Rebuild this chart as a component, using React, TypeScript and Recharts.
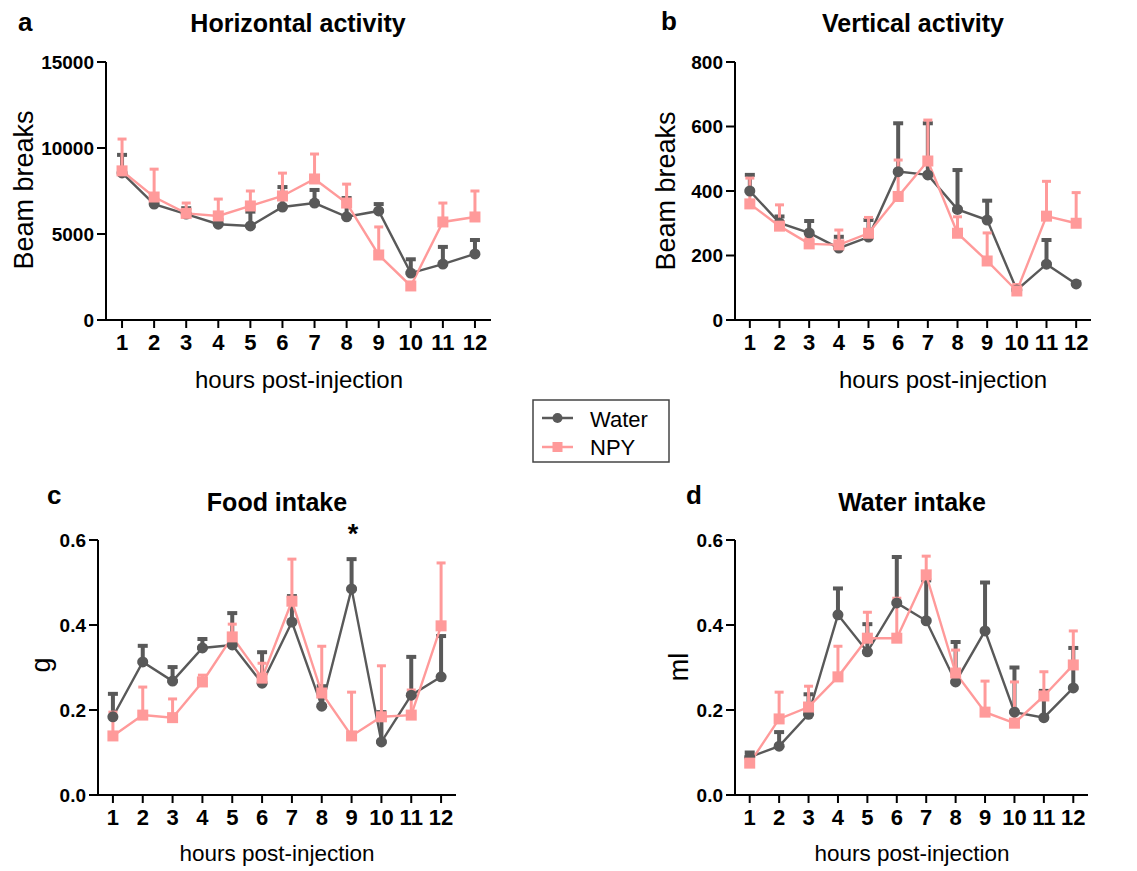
import { ErrorBar, Line, LineChart, XAxis, YAxis } from "recharts";

const FONT = 'Arial, "Liberation Sans", Helvetica, sans-serif';
const WATER = "#595959";
const NPY = "#ff9a9a";

const hours = [1, 2, 3, 4, 5, 6, 7, 8, 9, 10, 11, 12];

// a: horizontal activity (beam breaks), mean + upper SEM
const waterA = [8550, 6740, 6160, 5570, 5470, 6570, 6800, 6000, 6340, 2730, 3250, 3840];
const waterAErr = [1050, 260, 340, 250, 830, 1160, 760, 1090, 400, 800, 1000, 810];
const npyA = [8670, 7150, 6200, 6050, 6630, 7210, 8200, 6800, 3780, 1980, 5700, 5990];
const npyAErr = [1850, 1620, 600, 980, 870, 1330, 1450, 1100, 1630, 150, 1100, 1510];

// b: vertical activity
const waterB = [400, 301, 270, 223, 257, 460, 450, 343, 310, 93, 173, 112];
const waterBErr = [50, 20, 37, 35, 53, 150, 160, 122, 60, 10, 75, 5];
const npyB = [360, 291, 236, 233, 269, 383, 493, 269, 183, 90, 322, 300];
const npyBErr = [80, 66, 20, 46, 49, 113, 127, 51, 87, 20, 108, 95];

// c: food intake (g)
const waterC = [0.184, 0.313, 0.268, 0.346, 0.353, 0.263, 0.407, 0.209, 0.485, 0.125, 0.235, 0.278];
const waterCErr = [0.054, 0.038, 0.033, 0.021, 0.075, 0.073, 0.061, 0.047, 0.07, 0.07, 0.09, 0.096];
const npyC = [0.139, 0.188, 0.182, 0.266, 0.372, 0.275, 0.456, 0.24, 0.139, 0.184, 0.188, 0.398];
const npyCErr = [0.056, 0.066, 0.044, 0.016, 0.03, 0.035, 0.099, 0.11, 0.103, 0.12, 0.059, 0.148];

// d: water intake (ml)
const waterD = [0.089, 0.115, 0.19, 0.424, 0.337, 0.452, 0.41, 0.266, 0.386, 0.195, 0.182, 0.252];
const waterDErr = [0.011, 0.033, 0.047, 0.062, 0.065, 0.108, 0.095, 0.094, 0.114, 0.105, 0.063, 0.094];
const npyD = [0.075, 0.179, 0.207, 0.278, 0.369, 0.369, 0.518, 0.287, 0.195, 0.169, 0.233, 0.306];
const npyDErr = [0.015, 0.063, 0.049, 0.072, 0.061, 0.094, 0.044, 0.054, 0.073, 0.097, 0.057, 0.08];

const ticksA = [0, 5000, 10000, 15000];
const ticksB = [0, 200, 400, 600, 800];
const ticksCD = [0, 0.2, 0.4, 0.6];

const squareDot = (props: any) => {
  const { cx, cy, index } = props;
  if (cx == null || cy == null) return <g key={`sq-${index}`} />;
  return <rect key={`sq-${index}`} x={cx - 5.5} y={cy - 5.5} width={11} height={11} fill={NPY} />;
};

type PanelProps = {
  left: number;
  top: number;
  yWidth: number;
  plotW: number;
  plotH: number;
  domain: [number, number];
  ticks: number[];
  fmt?: (v: number) => string;
  water: number[];
  waterErr: number[];
  npy: number[];
  npyErr: number[];
};

function Panel(p: PanelProps) {
  const rows = hours.map((h, i) => ({
    hour: h,
    water: p.water[i],
    waterErr: [0, p.waterErr[i]],
    npy: p.npy[i],
    npyErr: [0, p.npyErr[i]],
  }));
  const width = p.yWidth + p.plotW + 14;
  const height = 22 + p.plotH + 44;
  const axisStyle = { stroke: "#000", strokeWidth: 2 };
  return (
    <div style={{ position: "absolute", left: p.left, top: p.top }}>
      <LineChart width={width} height={height} data={rows} margin={{ top: 22, right: 14, left: 0, bottom: 0 }}>
        <XAxis
          dataKey="hour"
          type="number"
          domain={[0.5, 12.5]}
          ticks={hours}
          interval={0}
          height={44}
          axisLine={axisStyle}
          tickLine={axisStyle}
          tickSize={8}
          tickMargin={6}
          tick={{ fill: "#000", fontSize: 22, fontWeight: 700, fontFamily: FONT }}
        />
        <YAxis
          type="number"
          domain={p.domain}
          ticks={p.ticks}
          interval={0}
          width={p.yWidth}
          axisLine={axisStyle}
          tickLine={axisStyle}
          tickSize={9}
          tickMargin={3}
          tickFormatter={p.fmt}
          tick={{ fill: "#000", fontSize: 19, fontWeight: 700, fontFamily: FONT }}
        />
        <Line
          dataKey="water"
          stroke={WATER}
          strokeWidth={2.4}
          dot={{ r: 5.5, fill: WATER, stroke: WATER, strokeWidth: 0 }}
          isAnimationActive={false}
        >
          <ErrorBar dataKey="waterErr" direction="y" width={5} strokeWidth={4} stroke={WATER} />
        </Line>
        <Line
          dataKey="npy"
          stroke={NPY}
          strokeWidth={2.4}
          dot={squareDot}
          isAnimationActive={false}
        >
          <ErrorBar dataKey="npyErr" direction="y" width={4.5} strokeWidth={3} stroke={NPY} />
        </Line>
      </LineChart>
    </div>
  );
}

const fmt1 = (v: number) => v.toFixed(1);

export default function App() {
  const bold = { fontFamily: FONT, fontWeight: 700, fill: "#000" } as const;
  const reg = { fontFamily: FONT, fill: "#000" } as const;
  return (
    <div style={{ position: "absolute", left: 0, top: 0, width: 1137, height: 871, background: "#fff" }}>
      <Panel left={0} top={40} yWidth={106} plotW={385} plotH={258} domain={[0, 15000]} ticks={ticksA}
        water={waterA} waterErr={waterAErr} npy={npyA} npyErr={npyAErr} />
      <Panel left={640} top={40} yWidth={95} plotW={356} plotH={258} domain={[0, 800]} ticks={ticksB}
        water={waterB} waterErr={waterBErr} npy={npyB} npyErr={npyBErr} />
      <Panel left={0} top={518} yWidth={98} plotW={358} plotH={255} domain={[0, 0.6]} ticks={ticksCD} fmt={fmt1}
        water={waterC} waterErr={waterCErr} npy={npyC} npyErr={npyCErr} />
      <Panel left={640} top={518} yWidth={95} plotW={353} plotH={255} domain={[0, 0.6]} ticks={ticksCD} fmt={fmt1}
        water={waterD} waterErr={waterDErr} npy={npyD} npyErr={npyDErr} />

      <svg width={1137} height={871} style={{ position: "absolute", left: 0, top: 0, pointerEvents: "none" }}>
        <text x={18} y={31} fontSize={26} {...bold}>a</text>
        <text x={298} y={32} fontSize={25} textAnchor="middle" {...bold}>Horizontal activity</text>
        <text x={661} y={30} fontSize={26} {...bold}>b</text>
        <text x={913} y={32} fontSize={25} textAnchor="middle" {...bold}>Vertical activity</text>
        <text x={47} y={504} fontSize={26} {...bold}>c</text>
        <text x={277} y={511} fontSize={25} textAnchor="middle" {...bold}>Food intake</text>
        <text x={686} y={504} fontSize={26} {...bold}>d</text>
        <text x={912} y={511} fontSize={25} textAnchor="middle" {...bold}>Water intake</text>
        <text x={353} y={543} fontSize={27} textAnchor="middle" {...bold}>*</text>

        <text x={299} y={388} fontSize={24} textAnchor="middle" {...reg}>hours post-injection</text>
        <text x={943} y={388} fontSize={24} textAnchor="middle" {...reg}>hours post-injection</text>
        <text x={277} y={861} fontSize={22.5} textAnchor="middle" {...reg}>hours post-injection</text>
        <text x={912} y={861} fontSize={22.5} textAnchor="middle" {...reg}>hours post-injection</text>

        <text transform="translate(33,190) rotate(-90)" fontSize={27} textAnchor="middle" {...reg}>Beam breaks</text>
        <text transform="translate(675,191) rotate(-90)" fontSize={27} textAnchor="middle" {...reg}>Beam breaks</text>
        <text transform="translate(50,665) rotate(-90)" fontSize={27} textAnchor="middle" {...reg}>g</text>
        <text transform="translate(688,667) rotate(-90)" fontSize={27} textAnchor="middle" {...reg}>ml</text>

        <rect x={533} y={400} width={136} height={62} fill="#fff" stroke="#444" strokeWidth={1.5} />
        <line x1={542} x2={573} y1={418} y2={418} stroke={WATER} strokeWidth={2.5} />
        <circle cx={557.5} cy={418} r={5} fill={WATER} />
        <text x={590} y={427} fontSize={22} {...reg}>Water</text>
        <line x1={542} x2={573} y1={447} y2={447} stroke={NPY} strokeWidth={2.5} />
        <rect x={552.5} y={442} width={10} height={10} fill={NPY} />
        <text x={590} y={455} fontSize={22} {...reg}>NPY</text>
      </svg>
    </div>
  );
}
